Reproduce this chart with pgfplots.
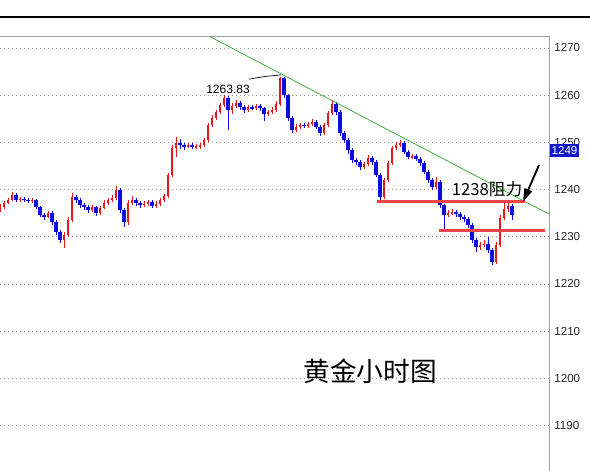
\documentclass[border=0pt]{standalone}
\usepackage{fontspec}
\setmainfont{Liberation Sans}
\newfontfamily\cjk{Noto Sans CJK SC}
\usepackage{pgfplots}
\usepackage{pgfplotstable}
\pgfplotsset{compat=1.18}
\usetikzlibrary{arrows.meta}
\definecolor{candleup}{RGB}{228,24,24}
\definecolor{candledn}{RGB}{12,12,225}
\definecolor{resline}{RGB}{236,68,68}
\definecolor{trend}{RGB}{40,165,40}
\definecolor{pricebox}{RGB}{16,24,200}

\pgfplotstableread{
x o h l c
0 1235.8 1236.9 1235.3 1236.3
4 1236.3 1237.6 1235.9 1237.2
8 1237.2 1238.3 1236.9 1237.8
12 1237.8 1239.6 1237.5 1238.9
20 1237.8 1238.5 1237.4 1238.0
32 1237.6 1238.2 1237.2 1237.8
48 1234.2 1235.5 1233.9 1235.0
64 1229.3 1231.0 1227.6 1230.4
68 1230.4 1234.1 1229.9 1233.6
72 1233.6 1239.3 1233.2 1238.4
92 1235.7 1236.8 1235.3 1236.3
100 1235.0 1236.6 1234.7 1236.1
104 1236.1 1237.7 1235.8 1237.2
108 1237.2 1238.3 1236.8 1237.8
112 1237.8 1238.8 1237.4 1238.2
116 1238.2 1240.7 1237.8 1239.9
128 1233.1 1237.9 1232.6 1237.2
132 1237.2 1238.6 1236.8 1237.8
144 1236.7 1237.5 1236.3 1237.0
148 1237.0 1237.9 1236.6 1237.4
156 1236.5 1237.5 1236.1 1237.0
160 1237.0 1238.3 1236.6 1237.8
164 1237.8 1239.1 1237.4 1238.6
168 1238.6 1243.6 1238.2 1243.1
172 1243.1 1249.4 1242.7 1248.8
176 1248.8 1251.2 1246.9 1249.9
188 1249.2 1249.9 1248.8 1249.4
196 1249.0 1249.7 1248.6 1249.2
200 1249.2 1249.9 1248.7 1249.4
204 1249.4 1251.0 1249.0 1250.5
208 1250.5 1254.2 1250.1 1253.7
212 1253.7 1255.8 1253.3 1255.2
216 1255.2 1256.9 1254.8 1256.4
220 1256.4 1258.4 1256.0 1257.9
224 1257.9 1260.0 1257.5 1259.4
232 1256.9 1258.3 1256.1 1257.7
236 1257.7 1258.9 1257.2 1258.3
248 1256.9 1258.0 1256.4 1257.5
256 1257.3 1258.2 1256.9 1257.7
268 1256.0 1256.9 1255.5 1256.4
272 1256.4 1257.4 1256.0 1256.9
276 1256.9 1258.7 1256.5 1258.1
280 1258.1 1263.83 1257.7 1263.6
296 1252.6 1253.9 1252.2 1253.3
300 1253.3 1254.2 1252.9 1253.7
308 1253.5 1254.4 1253.1 1253.9
312 1253.9 1254.9 1253.5 1254.3
324 1252.0 1254.2 1251.6 1253.7
328 1253.7 1256.7 1253.3 1256.2
332 1256.2 1258.9 1255.8 1258.1
364 1244.8 1245.9 1244.3 1245.4
368 1245.4 1247.4 1245.0 1246.7
384 1238.4 1242.5 1238.0 1242.0
388 1242.0 1246.1 1241.6 1245.6
392 1245.6 1249.3 1245.2 1248.8
396 1248.8 1250.0 1248.3 1249.4
400 1249.4 1250.4 1249.0 1249.9
412 1246.9 1247.6 1246.5 1247.1
436 1240.6 1242.7 1240.2 1241.6
448 1234.6 1235.6 1234.1 1235.0
452 1235.0 1235.9 1234.6 1235.2
480 1227.8 1228.9 1227.3 1228.3
484 1228.3 1229.3 1227.9 1228.5
496 1224.7 1228.8 1224.3 1228.3
500 1228.3 1234.6 1227.9 1234.0
504 1234.0 1237.7 1233.5 1235.9
508 1235.9 1237.6 1235.3 1236.5
}\up

\pgfplotstableread{
x o h l c
16 1238.9 1239.2 1237.4 1237.8
24 1238.0 1238.4 1237.3 1237.8
28 1237.8 1238.2 1237.1 1237.6
36 1237.8 1238.1 1235.9 1236.3
40 1236.3 1236.6 1234.1 1234.6
44 1234.6 1235.0 1233.6 1234.2
52 1235.0 1235.4 1232.6 1233.1
56 1233.1 1233.5 1230.4 1231.0
60 1231.0 1231.5 1228.6 1229.3
76 1238.4 1238.9 1237.2 1237.8
80 1237.8 1238.2 1236.2 1236.7
84 1236.7 1237.1 1235.7 1236.3
88 1236.3 1236.7 1235.1 1235.7
96 1236.3 1236.6 1234.5 1235.0
120 1239.9 1240.3 1235.0 1235.7
124 1235.7 1236.0 1232.0 1233.1
136 1237.8 1238.2 1236.6 1237.2
140 1237.2 1237.6 1236.2 1236.7
152 1237.4 1237.8 1236.0 1236.5
180 1249.9 1250.8 1248.7 1249.4
184 1249.4 1249.9 1248.5 1249.2
192 1249.4 1249.8 1248.5 1249.0
228 1259.4 1259.8 1252.6 1256.9
240 1258.3 1258.8 1256.9 1257.5
244 1257.5 1257.9 1256.3 1256.9
252 1257.5 1257.9 1256.8 1257.3
260 1257.7 1258.1 1256.7 1257.3
264 1257.3 1257.6 1254.5 1256.0
284 1263.6 1263.8 1259.5 1260.0
288 1260.0 1260.3 1254.6 1255.2
292 1255.2 1255.5 1251.9 1252.6
304 1253.7 1254.1 1253.0 1253.5
316 1254.3 1254.7 1252.8 1253.3
320 1253.3 1253.6 1251.3 1252.0
336 1258.1 1258.6 1255.9 1256.4
340 1256.4 1256.8 1251.4 1252.0
344 1252.0 1252.4 1249.9 1250.5
348 1250.5 1250.9 1247.6 1248.4
352 1248.4 1248.8 1245.7 1246.3
356 1246.3 1246.7 1245.2 1245.8
360 1245.8 1246.2 1244.2 1244.8
372 1246.7 1247.1 1245.2 1245.8
376 1245.8 1246.2 1242.6 1243.1
380 1243.1 1243.5 1237.4 1238.4
404 1249.9 1250.3 1247.5 1248.0
408 1248.0 1248.4 1246.4 1246.9
416 1247.1 1247.5 1246.0 1246.5
420 1246.5 1246.9 1245.1 1245.6
424 1245.6 1246.0 1243.2 1243.7
428 1243.7 1244.1 1241.5 1242.0
432 1242.0 1242.4 1239.9 1240.6
440 1241.6 1242.0 1236.0 1236.7
444 1236.7 1237.0 1231.6 1234.6
456 1235.2 1235.6 1234.3 1234.8
460 1234.8 1235.2 1233.6 1234.2
464 1234.2 1234.6 1233.2 1233.8
468 1233.8 1234.2 1231.9 1232.5
472 1232.5 1232.9 1228.7 1229.3
476 1229.3 1229.7 1226.7 1227.8
488 1228.5 1230.0 1226.6 1227.2
492 1227.2 1227.6 1224.0 1224.7
512 1236.5 1236.9 1233.6 1234.6
}\dn

\pgfplotsset{
  candle/.style 2 args={only marks, mark=*, mark size=0pt,
    mark options={draw opacity=0, fill opacity=0},
    error bars/.cd, y dir=both, y explicit, error mark=none,
    error bar style={#1, line width=#2}},
}

\begin{document}
\begin{tikzpicture}
\path[use as bounding box] (0,0) rectangle (442.5pt,353.25pt);
\draw[black, line width=0.9pt] (0,340.5pt) -- (442.5pt,340.5pt);
\begin{axis}[
  at={(0,0)}, anchor=south west,
  scale only axis, width=411.75pt, height=326.25pt,
  xmin=0, xmax=549, ymin=1180.38, ymax=1272.54,
  axis x line*=top, axis y line*=right,
  axis line style={gray!75, line width=0.6pt},
  xtick=\empty,
  ytick={1190,1200,...,1270},
  ymajorgrids,
  major grid style={gray!80, line width=0.5pt, dash pattern=on 0.75pt off 2.25pt},
  major tick length=0pt,
  yticklabel style={font=\fontsize{8.7}{10}\selectfont, xshift=0.5pt, text=black!85},
  /pgf/number format/1000 sep={},
  /pgf/number format/assume math mode=true,
  clip=false,
]
% wicks
\addplot[candle={candleup}{0.6pt}]
  table[x=x, y expr={(\thisrow{h}+\thisrow{l})/2}, y error expr={(\thisrow{h}-\thisrow{l})/2}] {\up};
\addplot[candle={candledn}{0.6pt}]
  table[x=x, y expr={(\thisrow{h}+\thisrow{l})/2}, y error expr={(\thisrow{h}-\thisrow{l})/2}] {\dn};
% bodies
\addplot[candle={candleup}{2.1pt}]
  table[x=x, y expr={(\thisrow{o}+\thisrow{c})/2}, y error expr={max(abs(\thisrow{o}-\thisrow{c})/2,0.15)}] {\up};
\addplot[candle={candledn}{2.7pt}]
  table[x=x, y expr={(\thisrow{o}+\thisrow{c})/2}, y error expr={max(abs(\thisrow{o}-\thisrow{c})/2,0.15)}] {\dn};
% trend line
\addplot[trend, line width=0.5pt] coordinates {(210,1272.4) (549,1234.8)};
% support / resistance lines
\addplot[resline, line width=2.2pt] coordinates {(377,1237.4) (525,1237.4)};
\addplot[resline, line width=2.2pt] coordinates {(439,1231.4) (545,1231.4)};
% peak pointer
\addplot[black, line width=0.5pt, smooth] coordinates {(249,1263.4) (265,1263.95) (281,1264.3)};
\node[font=\fontsize{9}{10}\selectfont] at (axis cs:228,1261.3) {1263.83};
\node[font=\cjk\fontsize{12.5}{14}\selectfont] at (axis cs:487,1240.1) {1238阻力};
\node[font=\cjk\fontsize{20}{22}\selectfont] at (axis cs:370,1201.4) {黄金小时图};
\draw[-{Triangle[length=10pt,width=6pt]}, line width=1.4pt] (axis cs:539,1245.2) -- (axis cs:523,1237.4);
\node[anchor=west, fill=pricebox, text=white, inner xsep=1pt, inner ysep=1.5pt,
  font=\fontsize{8.7}{10}\selectfont] at (axis cs:550,1248.3) {1249};
\end{axis}
\end{tikzpicture}
\end{document}
